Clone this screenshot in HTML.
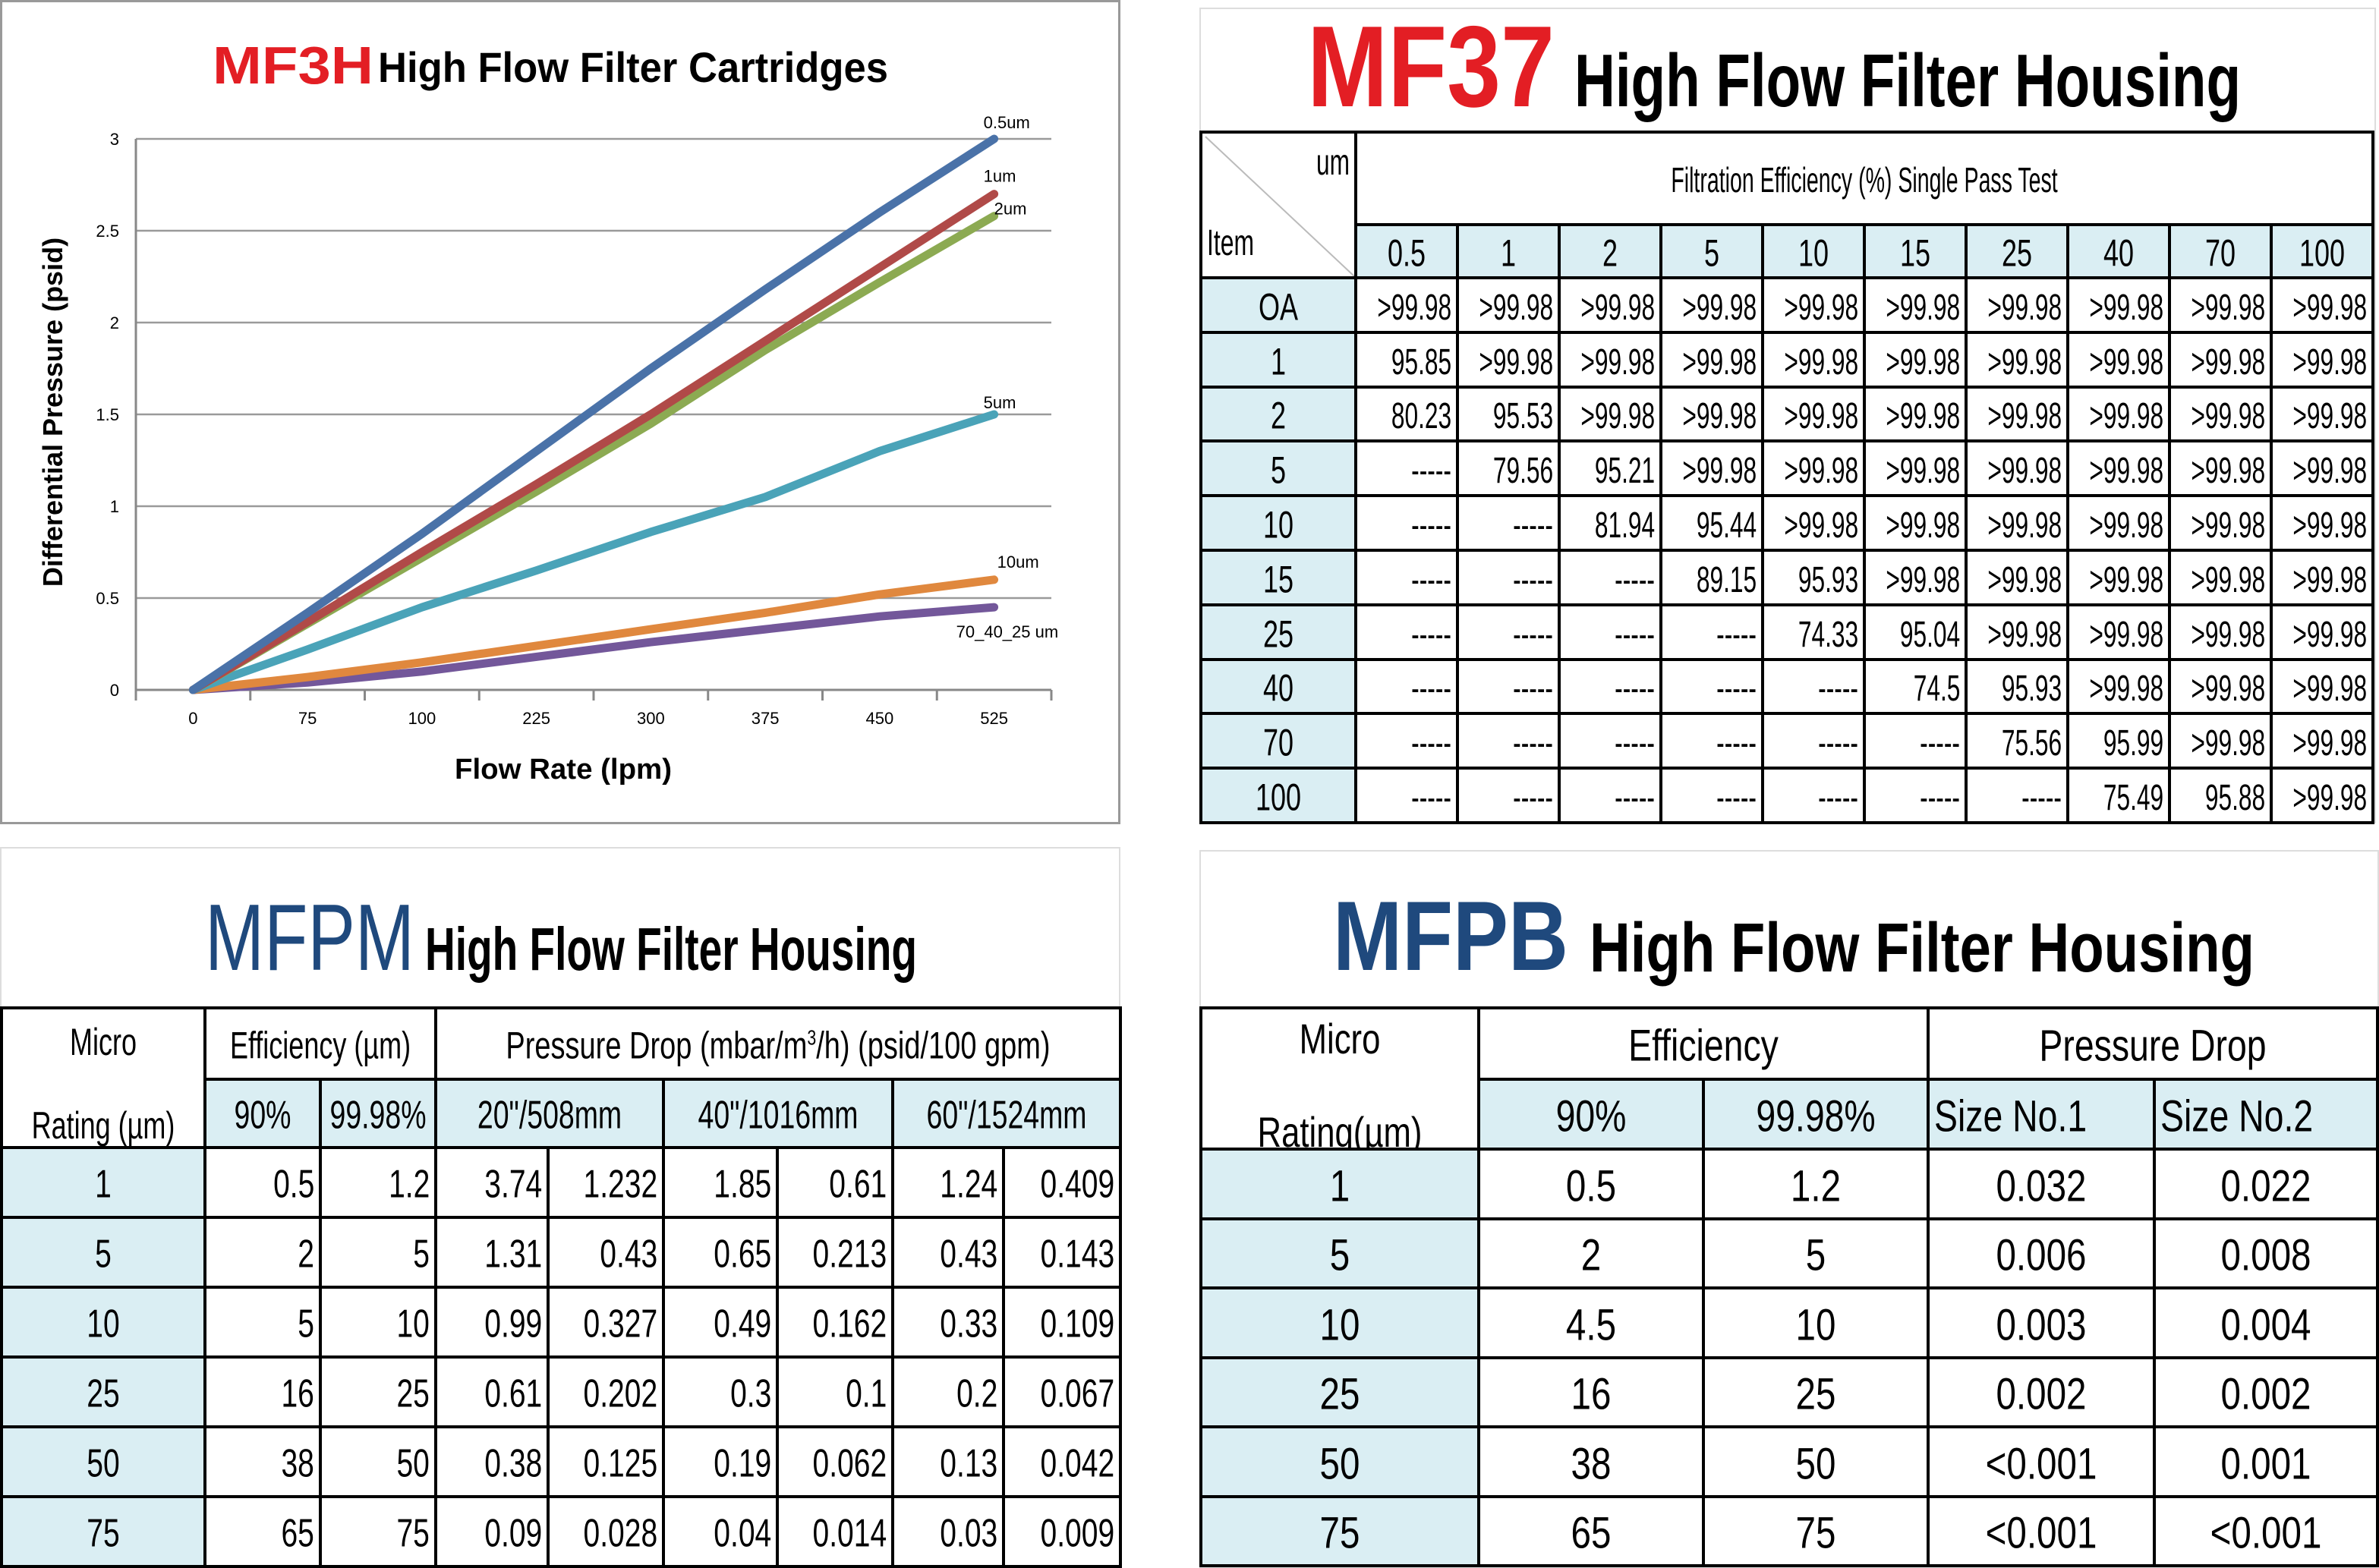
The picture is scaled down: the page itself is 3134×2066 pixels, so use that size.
<!DOCTYPE html>
<html><head><meta charset="utf-8">
<style>
html,body{margin:0;padding:0;background:#fff;}
body{width:3134px;height:2066px;position:relative;overflow:hidden;font-family:"Liberation Sans",sans-serif;}
.panel{position:absolute;background:#fff;box-sizing:border-box;}
table{position:absolute;border-collapse:collapse;table-layout:fixed;font-family:"Liberation Sans",sans-serif;color:#000;}
td{border:4px solid #000;padding:0;overflow:hidden;white-space:nowrap;box-sizing:border-box;position:relative;}
td.b{background:#daeef3;}
.s{position:absolute;white-space:nowrap;top:50%;line-height:1.1;}
.s.r{right:6px;transform-origin:right center;}
.s.l{left:6px;transform-origin:left center;}
.s.c{left:50%;transform-origin:center center;text-align:center;}
</style></head><body>

<div class="panel" style="left:0;top:0;width:1476px;height:1086px;border:3px solid #999;">
<svg id="chart" width="1476" height="1086" style="position:absolute;left:-3px;top:-3px;">
<g id="grid"></g><g id="series"></g>
<text transform="translate(82,543) rotate(-90)" text-anchor="middle" font-family="Liberation Sans, sans-serif" font-weight="bold" font-size="36" fill="#000">Differential Pressure (psid)</text>
<text x="742" y="1026" text-anchor="middle" font-family="Liberation Sans, sans-serif" font-weight="bold" font-size="38" fill="#000" textLength="286" lengthAdjust="spacingAndGlyphs">Flow Rate (lpm)</text>
</svg>
</div>

<div class="panel" style="left:1580px;top:10px;width:1550px;height:1075px;border:2px solid #ddd;"></div>
<div class="panel" style="left:0;top:1116px;width:1476px;height:950px;border:2px solid #ddd;"></div>
<div class="panel" style="left:1580px;top:1120px;width:1554px;height:946px;border:2px solid #ddd;"></div>

<div id="tables"></div>

<svg width="3134" height="2066" style="position:absolute;left:0;top:0;pointer-events:none;font-family:'Liberation Sans',sans-serif;">
<text x="280" y="110" font-weight="bold" font-size="70" fill="#e31e24" textLength="212" lengthAdjust="spacingAndGlyphs">MF3H</text>
<text x="498" y="108" font-weight="bold" font-size="56" fill="#000" textLength="672" lengthAdjust="spacingAndGlyphs">High Flow Filter Cartridges</text>
<text x="1722" y="140" font-weight="bold" font-size="152" fill="#e31e24" textLength="326" lengthAdjust="spacingAndGlyphs">MF37</text>
<text x="2074" y="140" font-weight="bold" font-size="98" fill="#000" textLength="878" lengthAdjust="spacingAndGlyphs">High Flow Filter Housing</text>
<text x="270" y="1278" font-size="124" fill="#1f497d" textLength="276" lengthAdjust="spacingAndGlyphs">MFPM</text>
<text x="560" y="1278" font-weight="bold" font-size="80" fill="#000" textLength="648" lengthAdjust="spacingAndGlyphs">High Flow Filter Housing</text>
<text x="1756" y="1278" font-weight="bold" font-size="130" fill="#1f497d" textLength="310" lengthAdjust="spacingAndGlyphs">MFPB</text>
<text x="2094" y="1280" font-weight="bold" font-size="92" fill="#000" textLength="876" lengthAdjust="spacingAndGlyphs">High Flow Filter Housing</text>
</svg>

<script>
// ---- chart data ----
const categories=["0","75","100","225","300","375","450","525"];
const yTicks=[0,0.5,1,1.5,2,2.5,3];
const seriesNames=["0.5um","1um","2um","5um","10um","70_40_25 um"];
const s05=[0,0.42,0.85,1.3,1.75,2.18,2.6,3.0];
const s1=[0,0.37,0.75,1.12,1.5,1.9,2.3,2.7];
const s2=[0,0.36,0.72,1.08,1.45,1.85,2.22,2.58];
const s5=[0,0.22,0.45,0.65,0.86,1.05,1.3,1.5];
const s10=[0,0.07,0.15,0.24,0.33,0.42,0.52,0.6];
const s70=[0,0.04,0.1,0.18,0.26,0.33,0.4,0.45];
const colors=["#4a72a8","#b04a48","#8caa52","#4aa3b8","#e0883e","#73579a"];

const NS="http://www.w3.org/2000/svg";
const X0=179,X1=1385,Y0=909,Y1=183,YMAX=3;
const band=(X1-X0)/categories.length;
const xs=i=>X0+band*(i+0.5);
const ys=v=>Y0-(v/YMAX)*(Y0-Y1);
const grid=document.getElementById('grid');
function mk(tag,attrs,parent){const e=document.createElementNS(NS,tag);for(const k in attrs)e.setAttribute(k,attrs[k]);parent.appendChild(e);return e;}
yTicks.forEach(t=>{
  const l=mk('line',{x1:X0,x2:X1,y1:ys(t),y2:ys(t),stroke:t===0?'#888':'#9a9a9a','stroke-width':t===0?3:2.5},grid);
  
  
  const tx=mk('text',{x:X0-22,y:ys(t)+8,'text-anchor':'end','font-size':22,'font-family':'Liberation Sans, sans-serif',fill:'#000'},grid);
  tx.textContent=String(t);
  
  
});
const ax=mk('line',{x1:X0,x2:X0,y1:Y1,y2:Y0,stroke:'#888','stroke-width':3},grid);


for(let i=0;i<=categories.length;i++){
  const tk=mk('line',{x1:X0+band*i,x2:X0+band*i,y1:Y0,y2:Y0+14,stroke:'#888','stroke-width':3},grid);
  
  
}
categories.forEach((c,i)=>{
  const tx=mk('text',{x:xs(i),y:Y0+45,'text-anchor':'middle','font-size':22,'font-family':'Liberation Sans, sans-serif',fill:'#000'},grid);
  tx.textContent=c;
  
  
});
const allSeries=[s05,s1,s2,s5,s10,s70];
const labelOff=[[-14,-14],[-14,-16],[0,-2],[-14,-8],[4,-16],[-50,40]];
const sg=document.getElementById('series');
[5,4,3,2,1,0].forEach(k=>{
  const d=allSeries[k].map((v,i)=>(i?'L':'M')+xs(i).toFixed(1)+','+ys(v).toFixed(1)).join(' ');
  const p=mk('path',{d:d,fill:'none',stroke:colors[k],'stroke-width':11,'stroke-linecap':'round','stroke-linejoin':'round'},sg);
  
  
});
allSeries.forEach((s,k)=>{
  const n=s.length-1;
  const tx=mk('text',{x:xs(n)+labelOff[k][0],y:ys(s[n])+labelOff[k][1],'font-size':22,'font-family':'Liberation Sans, sans-serif',fill:'#000'},sg);
  tx.textContent=seriesNames[k];
  
  
});

// ---- tables ----
const host=document.getElementById('tables');
function table(left,top,widths,name){
  const t=document.createElement('table');
  t.style.left=left+'px';t.style.top=top+'px';
  t.style.width=widths.reduce((a,b)=>a+b,0)+'px';
  const cg=document.createElement('colgroup');
  widths.forEach(w=>{const c=document.createElement('col');c.style.width=w+'px';cg.appendChild(c);});
  t.appendChild(cg);
  
  
  host.appendChild(t);return t;
}
function row(t,h){const r=document.createElement('tr');r.style.height=h+'px';t.appendChild(r);return r;}
function cell(r,txt,o){
  const c=document.createElement('td');
  o=o||{};
  if(o.cs)c.colSpan=o.cs;if(o.rs)c.rowSpan=o.rs;
  if(o.b)c.className='b';
  
  
  if(o.raw){c.innerHTML=txt;}
  else{
    const al=o.al||'r';
    const sp=document.createElement('span');
    sp.className='s '+al;
    sp.innerHTML=txt;
    sp.style.fontSize=(o.fs||40)+'px';
    const sx=o.sx||0.75, dy=o.dy||-45;
    sp.style.transform=(al==='c'?'translateX(-50%) ':'')+'translateY('+dy+'%) scaleX('+sx+')';
    c.appendChild(sp);
  }
  r.appendChild(c);return c;
}

// MF37
const mf37Cols=["0.5","1","2","5","10","15","25","40","70","100"];
const mf37Rows=["OA","1","2","5","10","15","25","40","70","100"];
const mf37Vals=[
[">99.98",">99.98",">99.98",">99.98",">99.98",">99.98",">99.98",">99.98",">99.98",">99.98"],
["95.85",">99.98",">99.98",">99.98",">99.98",">99.98",">99.98",">99.98",">99.98",">99.98"],
["80.23","95.53",">99.98",">99.98",">99.98",">99.98",">99.98",">99.98",">99.98",">99.98"],
["-----","79.56","95.21",">99.98",">99.98",">99.98",">99.98",">99.98",">99.98",">99.98"],
["-----","-----","81.94","95.44",">99.98",">99.98",">99.98",">99.98",">99.98",">99.98"],
["-----","-----","-----","89.15","95.93",">99.98",">99.98",">99.98",">99.98",">99.98"],
["-----","-----","-----","-----","74.33","95.04",">99.98",">99.98",">99.98",">99.98"],
["-----","-----","-----","-----","-----","74.5","95.93",">99.98",">99.98",">99.98"],
["-----","-----","-----","-----","-----","-----","75.56","95.99",">99.98",">99.98"],
["-----","-----","-----","-----","-----","-----","-----","75.49","95.88",">99.98"]];
(function(){
  const t=table(1580,172,[204].concat(Array(10).fill(134)),'mf37-table');
  let r=row(t,122);
  cell(r,'<svg width="204" height="192" style="position:absolute;left:0;top:0"><line x1="4" y1="4" x2="200" y2="188" stroke="#bbb" stroke-width="2"/><text x="150" y="54" font-size="48" font-family="Liberation Sans, sans-serif" textLength="44" lengthAdjust="spacingAndGlyphs">um</text><text x="6" y="160" font-size="48" font-family="Liberation Sans, sans-serif" textLength="62" lengthAdjust="spacingAndGlyphs">Item</text></svg>',{rs:2,raw:1,name:'corner-header'});
  cell(r,'Filtration Efficiency (%) Single Pass Test',{cs:10,al:'c',fs:46,sx:0.62,name:'group-header'});
  r=row(t,70);
  mf37Cols.forEach(c=>cell(r,c,{b:1,al:'c',fs:50,sx:0.72,name:'column-header'}));
  mf37Rows.forEach((rn,i)=>{
    const rr=row(t,71.8);
    cell(rr,rn,{b:1,al:'c',fs:50,sx:0.72,name:'row-header'});
    mf37Vals[i].forEach(v=>cell(rr,v,{fs:48,sx:0.66,dy:-42}));
  });
})();

// MFPM
const mfpmRows=["1","5","10","25","50","75"];
const mfpmVals=[
["0.5","1.2","3.74","1.232","1.85","0.61","1.24","0.409"],
["2","5","1.31","0.43","0.65","0.213","0.43","0.143"],
["5","10","0.99","0.327","0.49","0.162","0.33","0.109"],
["16","25","0.61","0.202","0.3","0.1","0.2","0.067"],
["38","50","0.38","0.125","0.19","0.062","0.13","0.042"],
["65","75","0.09","0.028","0.04","0.014","0.03","0.009"]];
(function(){
  const t=table(0,1326,[268,152,152,148,152,150,152,146,154],'mfpm-table');
  let r=row(t,94);
  cell(r,'Micro<br><br>Rating (µm)',{rs:2,al:'c',fs:50,sx:0.72,name:'micro-rating-header'});
  cell(r,'Efficiency (µm)',{cs:2,al:'c',fs:50,sx:0.72,name:'efficiency-header'});
  cell(r,'Pressure Drop (mbar/m<sup style="font-size:28px">3</sup>/h) (psid/100 gpm)',{cs:6,al:'c',fs:50,sx:0.76,name:'pressure-drop-header'});
  r=row(t,90);
  ["90%","99.98%"].forEach(h=>cell(r,h,{b:1,al:'c',fs:52,sx:0.72,name:'efficiency-subheader'}));
  ["20\"/508mm","40\"/1016mm","60\"/1524mm"].forEach(h=>cell(r,h,{b:1,cs:2,al:'c',fs:52,sx:0.72,name:'size-subheader'}));
  mfpmRows.forEach((rn,i)=>{
    const rr=row(t,92);
    cell(rr,rn,{b:1,al:'c',fs:52,sx:0.75,name:'row-header'});
    mfpmVals[i].forEach(v=>cell(rr,v,{fs:52,sx:0.75}));
  });
})();

// MFPB
const mfpbRows=["1","5","10","25","50","75"];
const mfpbVals=[
["0.5","1.2","0.032","0.022"],
["2","5","0.006","0.008"],
["4.5","10","0.003","0.004"],
["16","25","0.002","0.002"],
["38","50","&lt;0.001","0.001"],
["65","75","&lt;0.001","&lt;0.001"]];
(function(){
  const t=table(1580,1326,[366,296,296,298,294],'mfpb-table');
  let r=row(t,94);
  cell(r,'Micro<br><br>Rating(µm)',{rs:2,al:'c',fs:56,sx:0.78,name:'micro-rating-header'});
  cell(r,'Efficiency',{cs:2,al:'c',fs:58,sx:0.8,name:'efficiency-header'});
  cell(r,'Pressure Drop',{cs:2,al:'c',fs:58,sx:0.8,name:'pressure-drop-header'});
  r=row(t,92);
  ["90%","99.98%"].forEach(h=>cell(r,h,{b:1,al:'c',fs:58,sx:0.8,name:'efficiency-subheader'}));
  ["Size No.1","Size No.2"].forEach(h=>cell(r,h,{b:1,al:'l',fs:58,sx:0.8,name:'size-subheader'}));
  mfpbRows.forEach((rn,i)=>{
    const rr=row(t,91.5);
    cell(rr,rn,{b:1,al:'c',fs:58,sx:0.82,name:'row-header'});
    mfpbVals[i].forEach(v=>cell(rr,v,{al:'c',fs:58,sx:0.82}));
  });
})();
</script>
</body></html>
